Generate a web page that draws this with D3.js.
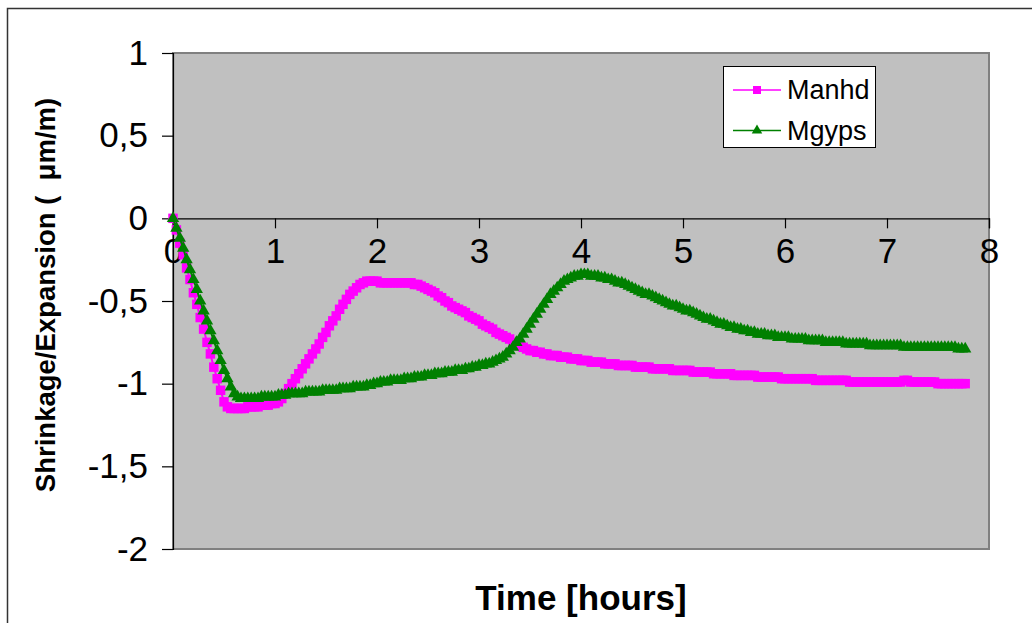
<!DOCTYPE html>
<html>
<head>
<meta charset="utf-8">
<script src="https://cdn.jsdelivr.net/npm/d3@7/dist/d3.min.js"></script>
<style>
  html, body { margin: 0; padding: 0; background: #ffffff; }
  svg { display: block; }
  text { font-family: "Liberation Sans", Arial, Helvetica, sans-serif; }
</style>
</head>
<body>
<svg id="chart" width="1032" height="623"></svg>
<script>
// ---- data ----
const seriesNames = ["Manhd", "Mgyps"];
const sampleMinutes = 2; // one reading every 2 minutes
const xTicks = [0, 1, 2, 3, 4, 5, 6, 7, 8];
const yTicks = [1, 0.5, 0, -0.5, -1, -1.5, -2];
const yTickLabels = ["1", "0,5", "0", "-0,5", "-1", "-1,5", "-2"];

const manhd = [
  0, -0.07, -0.15, -0.22, -0.30, -0.37, -0.45, -0.52, -0.60, -0.67,
  -0.75, -0.82, -0.90, -0.97, -1.04, -1.11, -1.14, -1.15, -1.15, -1.15,
  -1.15, -1.15, -1.14, -1.14, -1.14, -1.14, -1.13, -1.13, -1.13, -1.12,
  -1.12, -1.11, -1.09, -1.06, -1.03, -1.00, -0.97, -0.94, -0.91, -0.88,
  -0.85, -0.82, -0.79, -0.76, -0.72, -0.69, -0.65, -0.62, -0.59, -0.55,
  -0.52, -0.49, -0.46, -0.44, -0.42, -0.40, -0.39, -0.38, -0.38, -0.38,
  -0.38, -0.39, -0.39, -0.39, -0.39, -0.39, -0.39, -0.39, -0.39, -0.39,
  -0.39, -0.40, -0.40, -0.41, -0.42, -0.43, -0.44, -0.45, -0.47, -0.48,
  -0.50, -0.51, -0.53, -0.54, -0.55, -0.56, -0.57, -0.59, -0.60, -0.61,
  -0.62, -0.64, -0.65, -0.66, -0.67, -0.69, -0.70, -0.71, -0.72, -0.73,
  -0.75, -0.76, -0.77, -0.78, -0.79, -0.80, -0.80, -0.81, -0.81, -0.82,
  -0.82, -0.83, -0.83, -0.83, -0.84, -0.84, -0.84, -0.85, -0.85, -0.85,
  -0.86, -0.86, -0.86, -0.87, -0.87, -0.87, -0.87, -0.88, -0.88, -0.88,
  -0.88, -0.89, -0.89, -0.89, -0.89, -0.89, -0.90, -0.90, -0.90, -0.90,
  -0.90, -0.91, -0.91, -0.91, -0.91, -0.91, -0.91, -0.92, -0.92, -0.92,
  -0.92, -0.92, -0.92, -0.93, -0.93, -0.93, -0.93, -0.93, -0.93, -0.94,
  -0.94, -0.94, -0.94, -0.94, -0.94, -0.95, -0.95, -0.95, -0.95, -0.95,
  -0.95, -0.95, -0.96, -0.96, -0.96, -0.96, -0.96, -0.96, -0.96, -0.97,
  -0.97, -0.97, -0.97, -0.97, -0.97, -0.97, -0.97, -0.97, -0.97, -0.98,
  -0.98, -0.98, -0.98, -0.98, -0.98, -0.98, -0.98, -0.98, -0.98, -0.99,
  -0.99, -0.99, -0.99, -0.99, -0.99, -0.99, -0.99, -0.99, -0.99, -0.99,
  -0.99, -0.99, -0.99, -0.99, -0.99, -0.98, -0.98, -0.99, -0.99, -0.99,
  -0.99, -0.99, -0.99, -0.99, -0.99, -1.00, -1.00, -1.00, -1.00, -1.00,
  -1.00, -1.00, -1.00, -1.00
];

const mgyps = [
  0, -0.06, -0.12, -0.18, -0.25, -0.31, -0.37, -0.43, -0.50, -0.56,
  -0.62, -0.68, -0.74, -0.80, -0.86, -0.92, -0.97, -1.02, -1.06, -1.08,
  -1.09, -1.09, -1.09, -1.09, -1.09, -1.09, -1.08, -1.08, -1.08, -1.08,
  -1.08, -1.07, -1.07, -1.07, -1.06, -1.06, -1.06, -1.06, -1.06, -1.05,
  -1.05, -1.05, -1.05, -1.05, -1.04, -1.04, -1.04, -1.04, -1.04, -1.03,
  -1.03, -1.03, -1.03, -1.02, -1.02, -1.02, -1.02, -1.01, -1.01, -1.00,
  -1.00, -0.99, -0.99, -0.99, -0.98, -0.98, -0.98, -0.98, -0.97, -0.97,
  -0.97, -0.96, -0.96, -0.96, -0.95, -0.95, -0.95, -0.94, -0.94, -0.94,
  -0.93, -0.93, -0.93, -0.92, -0.92, -0.92, -0.91, -0.91, -0.90, -0.90,
  -0.89, -0.89, -0.88, -0.88, -0.87, -0.86, -0.85, -0.84, -0.82, -0.80,
  -0.78, -0.75, -0.73, -0.70, -0.67, -0.64, -0.61, -0.58, -0.55, -0.52,
  -0.49, -0.46, -0.44, -0.42, -0.40, -0.38, -0.37, -0.36, -0.35, -0.35,
  -0.34, -0.34, -0.34, -0.35, -0.35, -0.35, -0.36, -0.36, -0.37, -0.37,
  -0.38, -0.39, -0.39, -0.40, -0.41, -0.42, -0.43, -0.44, -0.45, -0.46,
  -0.46, -0.47, -0.48, -0.49, -0.50, -0.51, -0.52, -0.53, -0.53, -0.54,
  -0.55, -0.56, -0.56, -0.57, -0.58, -0.59, -0.60, -0.61, -0.61, -0.62,
  -0.63, -0.64, -0.64, -0.65, -0.66, -0.66, -0.67, -0.67, -0.68, -0.68,
  -0.69, -0.69, -0.70, -0.70, -0.70, -0.71, -0.71, -0.71, -0.72, -0.72,
  -0.72, -0.72, -0.73, -0.73, -0.73, -0.73, -0.73, -0.74, -0.74, -0.74,
  -0.74, -0.74, -0.75, -0.75, -0.75, -0.75, -0.75, -0.75, -0.76, -0.76,
  -0.76, -0.76, -0.76, -0.76, -0.76, -0.77, -0.77, -0.77, -0.77, -0.77,
  -0.77, -0.77, -0.77, -0.77, -0.77, -0.78, -0.78, -0.78, -0.78, -0.78,
  -0.78, -0.78, -0.78, -0.78, -0.78, -0.78, -0.78, -0.78, -0.78, -0.78,
  -0.78, -0.79, -0.79, -0.79
];

// ---- layout ----
const svg = d3.select("#chart");
const plot = { left: 173, top: 53, right: 989, bottom: 549 };
const font = '"Liberation Sans", Arial, Helvetica, sans-serif';

const x = d3.scaleLinear().domain([0, 8]).range([plot.left, plot.right]);
const y = d3.scaleLinear().domain([-2, 1]).range([plot.bottom, plot.top]);

// outer frame (partly outside the window, like the reference)
svg.append("rect")
  .attr("x", 7.5).attr("y", 8.5).attr("width", 1060).attr("height", 660)
  .attr("fill", "none").attr("stroke", "#333").attr("stroke-width", 1.5);

// plot area
svg.append("rect")
  .attr("x", plot.left).attr("y", plot.top)
  .attr("width", plot.right - plot.left).attr("height", plot.bottom - plot.top)
  .attr("fill", "#C0C0C0").attr("stroke", "#808080").attr("stroke-width", 2);

// y axis
const yAxis = d3.axisLeft(y).tickValues(yTicks).tickSize(11).tickPadding(14)
  .tickFormat((d, i) => yTickLabels[i]);
const gy = svg.append("g").attr("transform", `translate(${plot.left},0)`).call(yAxis);
gy.select(".domain").attr("stroke", "#000").attr("stroke-width", 1.2);
gy.selectAll(".tick line").attr("stroke", "#000").attr("stroke-width", 1.2);
gy.selectAll(".tick text").attr("font-family", font).attr("font-size", 35).attr("fill", "#000");

// x axis at y = 0
const xAxis = d3.axisBottom(x).tickValues(xTicks).tickSize(10).tickPadding(10)
  .tickFormat(d3.format("d"));
const gx = svg.append("g").attr("transform", `translate(0,${y(0)})`).call(xAxis);
gx.select(".domain").attr("stroke", "#000").attr("stroke-width", 1.2);
gx.selectAll(".tick line").attr("stroke", "#000").attr("stroke-width", 1.2);
gx.selectAll(".tick text").attr("font-family", font).attr("font-size", 35).attr("fill", "#000");

// series
const colors = ["#FF00FF", "#008000"];
const seriesData = [manhd, mgyps].map(vals =>
  vals.map((v, i) => ({ t: i * sampleMinutes / 60, v })));
const line = d3.line().x(d => x(d.t)).y(d => y(d.v));
const symbols = [d3.symbol().type(d3.symbolSquare).size(90),
                 d3.symbol().type(d3.symbolTriangle).size(66)];

seriesData.forEach((data, k) => {
  const g = svg.append("g");
  g.append("path").datum(data).attr("d", line)
    .attr("fill", "none").attr("stroke", colors[k]).attr("stroke-width", 2);
  g.selectAll("path.m").data(data).enter().append("path").attr("class", "m")
    .attr("d", symbols[k])
    .attr("transform", d => `translate(${x(d.t)},${y(d.v)})`)
    .attr("fill", colors[k]);
});

// legend
const legendSymbols = [d3.symbol().type(d3.symbolSquare).size(64),
                       d3.symbol().type(d3.symbolTriangle).size(48)];
const lg = svg.append("g");
lg.append("rect").attr("x", 723.5).attr("y", 66.5).attr("width", 152).attr("height", 81)
  .attr("fill", "#fff").attr("stroke", "#000").attr("stroke-width", 1);
seriesNames.forEach((name, k) => {
  const cy = 90 + k * 40.5;
  lg.append("line").attr("x1", 733).attr("x2", 781).attr("y1", cy).attr("y2", cy)
    .attr("stroke", colors[k]).attr("stroke-width", 1.5);
  lg.append("path").attr("d", legendSymbols[k]).attr("transform", `translate(757,${cy})`)
    .attr("fill", colors[k]);
  lg.append("text").attr("x", 787).attr("y", cy + 9).attr("font-family", font)
    .attr("font-size", 27).attr("fill", "#000").text(name);
});

// axis titles
svg.append("text").attr("x", (plot.left + plot.right) / 2).attr("y", 610)
  .attr("text-anchor", "middle").attr("font-family", font).attr("font-weight", "bold")
  .attr("font-size", 35).attr("fill", "#000").text("Time [hours]");

svg.append("text")
  .attr("transform", "translate(55,295) rotate(-90)")
  .attr("text-anchor", "middle").attr("font-family", font).attr("font-weight", "bold")
  .attr("font-size", 27.5).attr("fill", "#000").style("white-space", "pre")
  .text("Shrinkage/Expansion (  \u03BCm/m)");
</script>
</body>
</html>
